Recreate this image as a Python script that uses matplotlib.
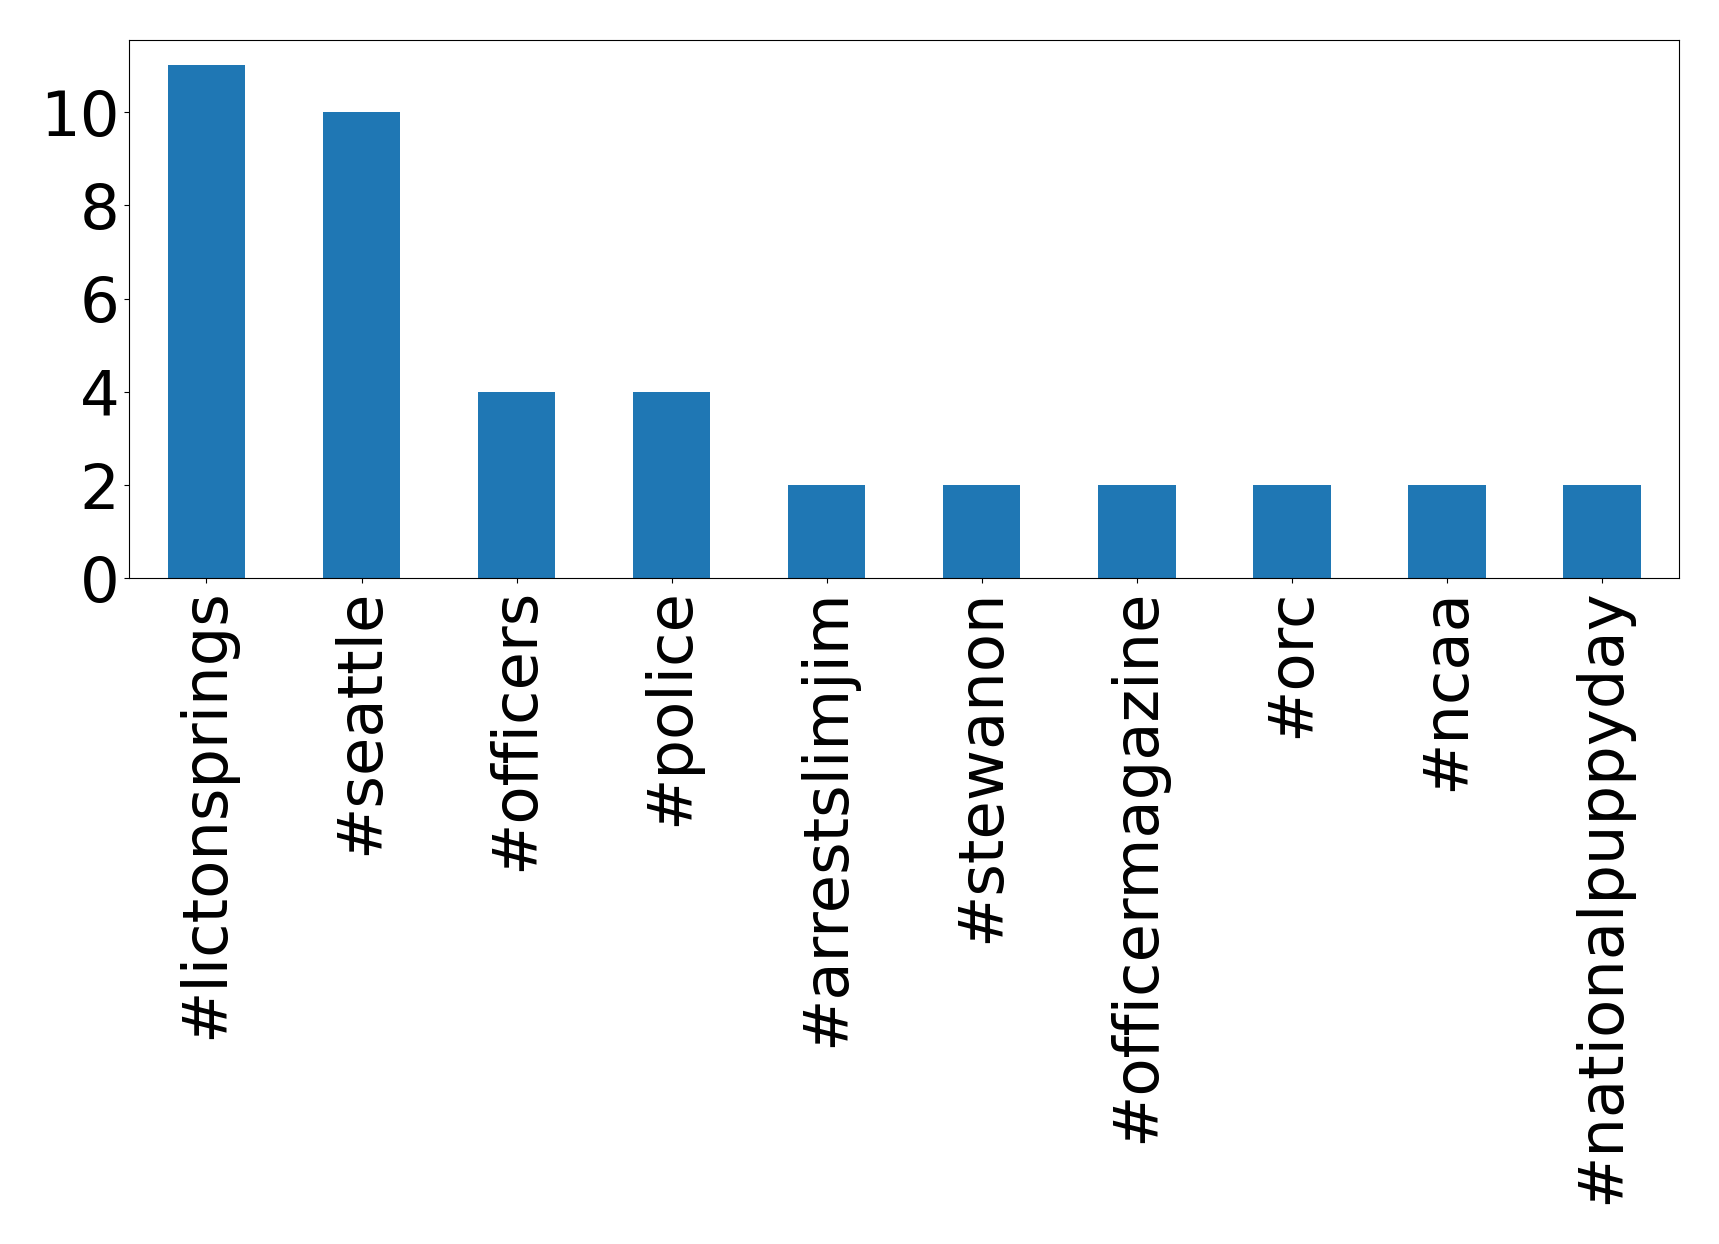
import matplotlib
matplotlib.use("Agg")
import matplotlib.pyplot as plt
import pandas as pd

# hashtag counts
hashtags = ["#lictonsprings", "#seattle", "#officers", "#police", "#arrestslimjim",
            "#stewanon", "#officermagazine", "#orc", "#ncaa", "#nationalpuppyday"]
counts = [11, 10, 4, 4, 2, 2, 2, 2, 2, 2]

s = pd.Series(counts, index=hashtags)

fig = plt.figure(figsize=(17.19, 12.44), dpi=100)
ax = fig.add_axes([0.075, 0.535, 0.902, 0.433])
s.plot(kind="bar", ax=ax, color="#1f77b4", fontsize=45)
ax.set_ylim(0, 11.55)
ax.set_yticks([0, 2, 4, 6, 8, 10])

fig.savefig("out.png", dpi=100)
